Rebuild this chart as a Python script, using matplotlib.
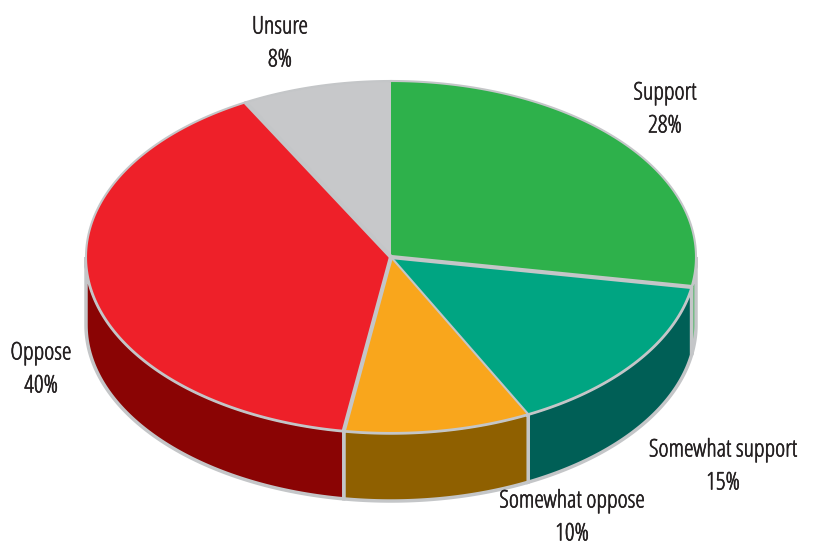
import numpy as np
import matplotlib
matplotlib.use("Agg")
import matplotlib.pyplot as plt
import matplotlib.patheffects as pe

labels = ["Support", "Somewhat support", "Somewhat oppose", "Oppose", "Unsure"]
values = [28, 15, 10, 40, 8]
top_colors = ["#2eb14b", "#00a582", "#f9a61c", "#ee2029", "#c7c8ca"]
side_colors = ["#2eb14b", "#005f56", "#8f6000", "#8a0404", "#c7c8ca"]
label_pos = [(665, 110), (723, 467), (572, 518), (41, 370), (280, 44)]
spoke_widths = [3.0, 1.5, 3.0, 3.0, 0.0]

edge = "#c4c6c8"
W, H = 815, 546
cx, cy = 391, 257
rx, ry = 305, 176
depth = 68

plt.rcParams["font.family"] = ["Open Sans", "DejaVu Sans"]
fig = plt.figure(figsize=(W / 100, H / 100), dpi=100)
ax = fig.add_axes([0, 0, 1, 1])
ax.set_xlim(0, W)
ax.set_ylim(H, 0)
ax.axis("off")

# angles of slice edges, clockwise from the top
total = sum(values)
edges = 90 - np.cumsum([0] + values) / total * 360

# side walls, only the front half of the rim can be seen
for i in range(len(values)):
    start, end = min(edges[i], 0), max(edges[i + 1], -180)
    if start <= end:
        continue
    t = np.radians(np.linspace(start, end, 80))
    x = cx + rx * np.cos(t)
    y = cy - ry * np.sin(t)
    ax.fill(np.r_[x, x[::-1]], np.r_[y, y[::-1] + depth], color=side_colors[i],
            ec=edge, lw=2.5, zorder=1, joinstyle="miter")

# top face
for i in range(len(values)):
    t = np.radians(np.linspace(edges[i], edges[i + 1], 120))
    x = np.r_[cx, cx + rx * np.cos(t)]
    y = np.r_[cy, cy - ry * np.sin(t)]
    ax.fill(x, y, color=top_colors[i], lw=0, zorder=2)
    ax.plot(x[1:], y[1:], color=edge, lw=1.5, zorder=3)

# spokes between the slices
for i in range(len(values)):
    if spoke_widths[i] == 0:
        continue
    t = np.radians(edges[i + 1])
    ax.plot([cx, cx + rx * np.cos(t)], [cy, cy - ry * np.sin(t)], color=edge,
            lw=spoke_widths[i], zorder=3, solid_capstyle="butt")

# condensed face is thin, a small stroke brings it closer to the original weight
for name, val, (lx, ly) in zip(labels, values, label_pos):
    ax.text(lx, ly, f"{name}\n{val}%", ha="center", va="center", fontsize=17.5,
            color="#231f20", stretch="condensed", linespacing=1.5, zorder=4,
            path_effects=[pe.withStroke(linewidth=0.4, foreground="#231f20")])

fig.savefig("out.png", dpi=100)
